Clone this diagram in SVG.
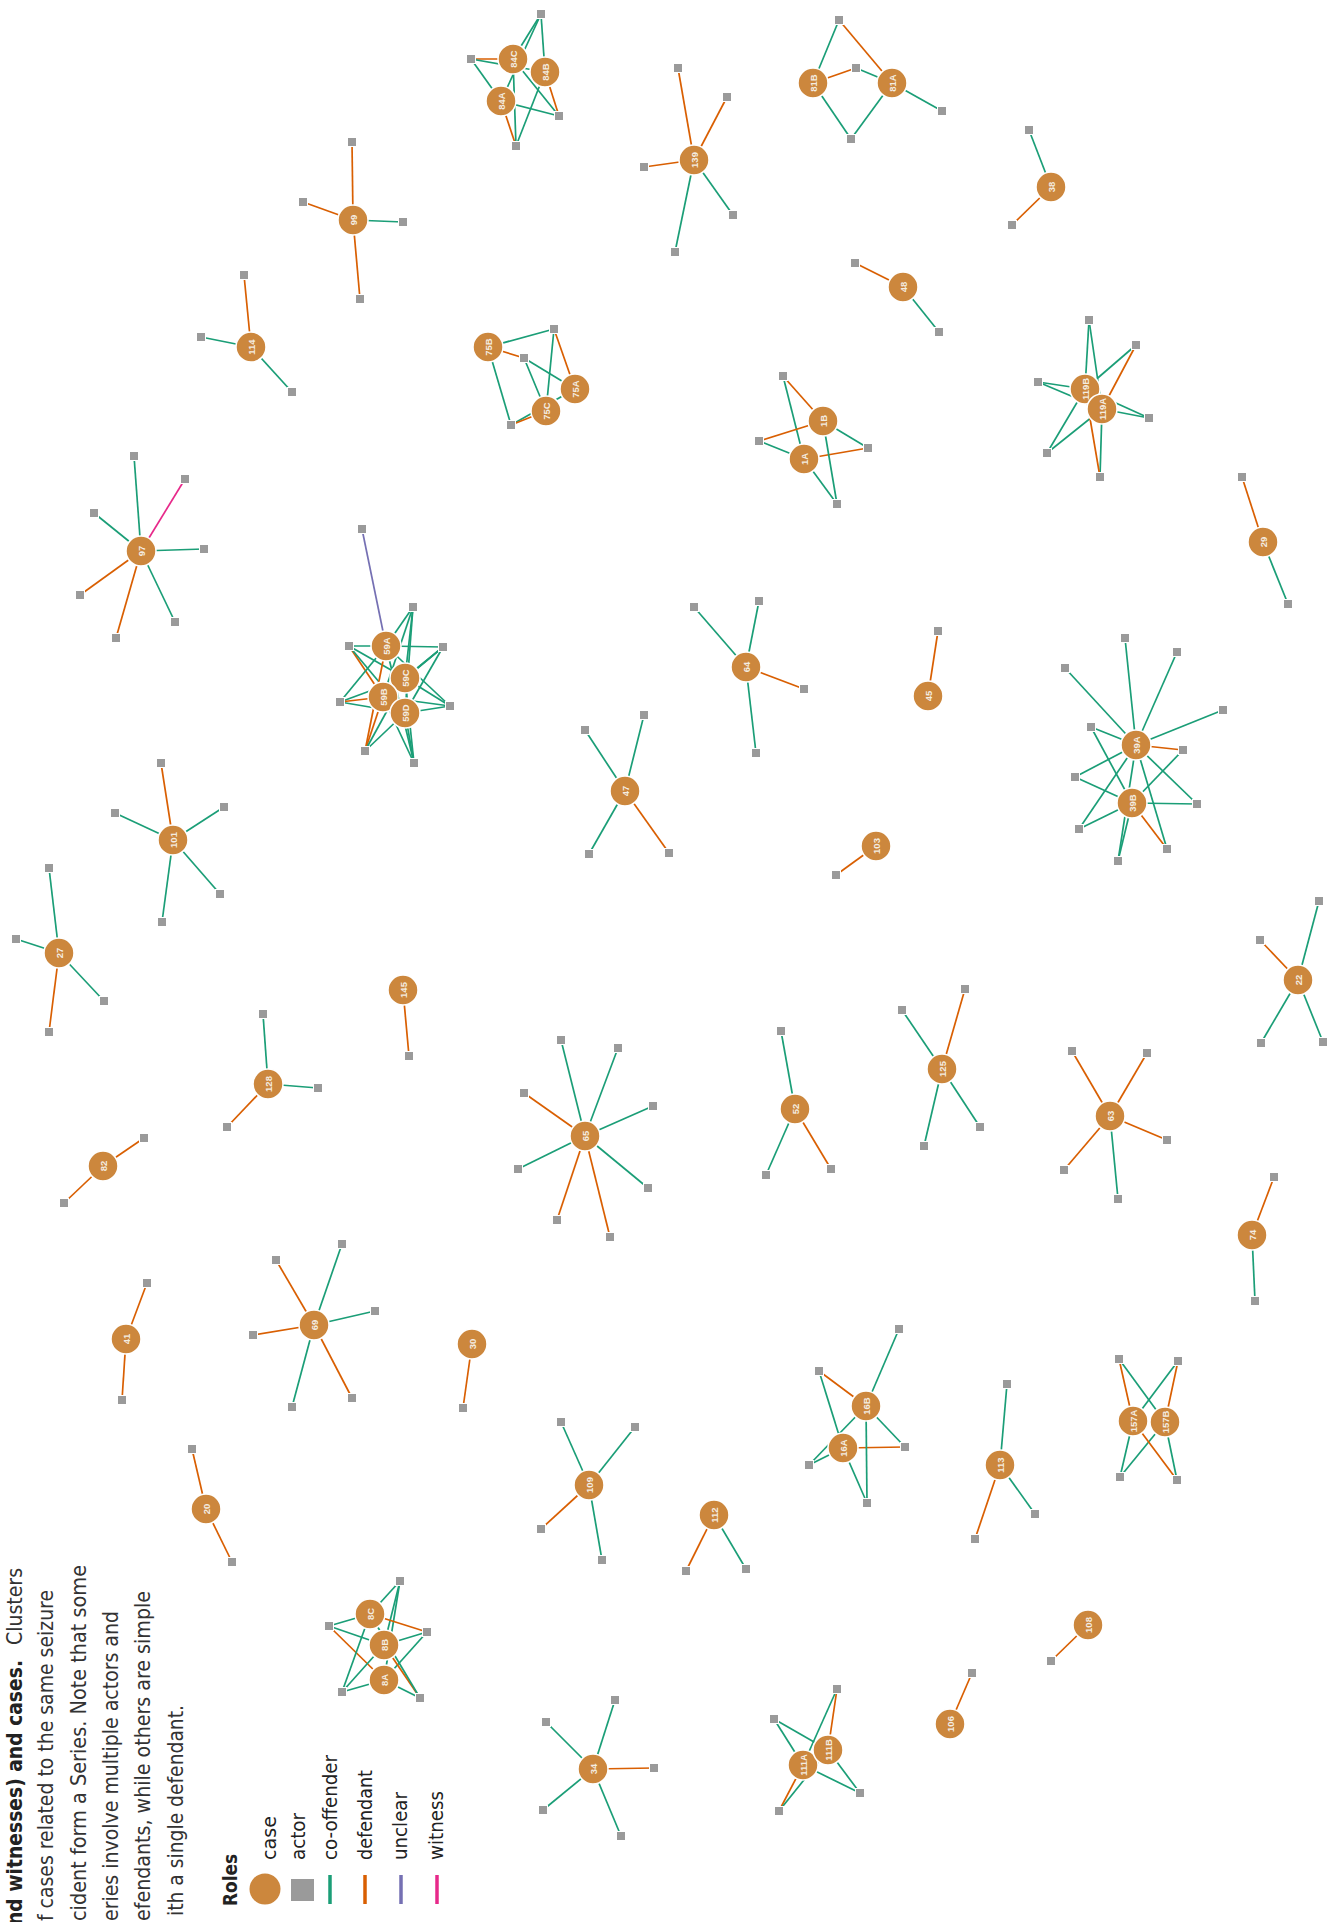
<svg xmlns="http://www.w3.org/2000/svg" width="1335" height="1922" viewBox="0 0 1335 1922">
<style>
.bg{fill:#fff}
.cs circle{fill:#cc873d;stroke:#fff;stroke-width:1.5}
.cs text{fill:#f4ede2;font-family:"Liberation Sans",Arial,sans-serif;font-size:9.5px;font-weight:bold;text-anchor:middle;dominant-baseline:central}
.ac rect{fill:#9a9a9a;stroke:#fff;stroke-width:1}
#edges line{stroke-width:1.7;fill:none}
.co{stroke:#1b9e77}
.df{stroke:#d95f02}
.un{stroke:#7570b3}
.wi{stroke:#e7298a}
.cap{font-family:"Liberation Sans Narrow","DejaVu Sans Condensed","Liberation Sans",sans-serif;font-size:21px;fill:#333}
.capb{font-weight:bold;fill:#222}
.lg{font-family:"Liberation Sans Narrow","DejaVu Sans Condensed","Liberation Sans",sans-serif;font-size:20px;fill:#222}
</style>
<rect class="bg" x="0" y="0" width="1335" height="1922"/>
<g id="edges">
<line class="df" x1="353" y1="220" x2="352" y2="142"/><line class="df" x1="353" y1="220" x2="303" y2="202"/><line class="co" x1="353" y1="220" x2="403" y2="222"/><line class="df" x1="353" y1="220" x2="360" y2="299"/>
<line class="df" x1="251" y1="347" x2="244" y2="275"/><line class="co" x1="251" y1="347" x2="201" y2="337"/><line class="co" x1="251" y1="347" x2="292" y2="392"/>
<line class="df" x1="513" y1="59" x2="471" y2="59"/><line class="co" x1="545" y1="72" x2="471" y2="59"/><line class="co" x1="501" y1="101" x2="471" y2="59"/>
<line class="co" x1="513" y1="59" x2="541" y2="14"/><line class="co" x1="501" y1="101" x2="541" y2="14"/><line class="co" x1="545" y1="72" x2="541" y2="14"/>
<line class="df" x1="545" y1="72" x2="559" y2="116"/><line class="co" x1="513" y1="59" x2="559" y2="116"/><line class="co" x1="501" y1="101" x2="559" y2="116"/>
<line class="df" x1="501" y1="101" x2="516" y2="146"/><line class="co" x1="513" y1="59" x2="516" y2="146"/><line class="co" x1="545" y1="72" x2="516" y2="146"/>
<line class="df" x1="694" y1="160" x2="678" y2="68"/><line class="df" x1="694" y1="160" x2="727" y2="97"/><line class="df" x1="694" y1="160" x2="644" y2="167"/><line class="co" x1="694" y1="160" x2="733" y2="215"/><line class="co" x1="694" y1="160" x2="675" y2="252"/>
<line class="co" x1="813" y1="83" x2="839" y2="20"/><line class="df" x1="839" y1="20" x2="892" y2="83"/><line class="df" x1="813" y1="83" x2="856" y2="68"/><line class="co" x1="856" y1="68" x2="892" y2="83"/><line class="co" x1="813" y1="83" x2="851" y2="139"/><line class="co" x1="892" y1="83" x2="851" y2="139"/><line class="co" x1="892" y1="83" x2="942" y2="111"/>
<line class="df" x1="903" y1="287" x2="855" y2="263"/><line class="co" x1="903" y1="287" x2="939" y2="332"/>
<line class="co" x1="1051" y1="187" x2="1029" y2="130"/><line class="df" x1="1051" y1="187" x2="1012" y2="225"/>
<line class="co" x1="488" y1="347" x2="554" y2="329"/><line class="df" x1="488" y1="347" x2="524" y2="358"/><line class="co" x1="488" y1="347" x2="511" y2="425"/>
<line class="df" x1="554" y1="329" x2="575" y2="389"/><line class="co" x1="554" y1="329" x2="546" y2="411"/><line class="co" x1="524" y1="358" x2="575" y2="389"/><line class="co" x1="524" y1="358" x2="546" y2="411"/><line class="co" x1="511" y1="425" x2="575" y2="389"/><line class="df" x1="511" y1="425" x2="546" y2="411"/>
<line class="df" x1="783" y1="376" x2="823" y2="421"/><line class="co" x1="783" y1="376" x2="804" y2="459"/><line class="df" x1="759" y1="441" x2="823" y2="421"/><line class="co" x1="759" y1="441" x2="804" y2="459"/><line class="co" x1="868" y1="448" x2="823" y2="421"/><line class="df" x1="868" y1="448" x2="804" y2="459"/><line class="co" x1="837" y1="504" x2="823" y2="421"/><line class="co" x1="837" y1="504" x2="804" y2="459"/>
<line class="co" x1="1089" y1="320" x2="1085" y2="389"/><line class="co" x1="1089" y1="320" x2="1102" y2="409"/><line class="co" x1="1136" y1="345" x2="1085" y2="389"/><line class="df" x1="1136" y1="345" x2="1102" y2="409"/>
<line class="co" x1="1038" y1="382" x2="1085" y2="389"/><line class="co" x1="1038" y1="382" x2="1102" y2="409"/><line class="co" x1="1149" y1="418" x2="1102" y2="409"/><line class="co" x1="1149" y1="418" x2="1085" y2="389"/>
<line class="co" x1="1047" y1="453" x2="1085" y2="389"/><line class="co" x1="1047" y1="453" x2="1102" y2="409"/><line class="co" x1="1100" y1="477" x2="1102" y2="409"/><line class="df" x1="1100" y1="477" x2="1085" y2="389"/>
<line class="co" x1="141" y1="551" x2="134" y2="456"/><line class="wi" x1="141" y1="551" x2="185" y2="479"/><line class="co" x1="141" y1="551" x2="94" y2="513"/><line class="co" x1="141" y1="551" x2="204" y2="549"/><line class="df" x1="141" y1="551" x2="80" y2="595"/><line class="df" x1="141" y1="551" x2="116" y2="638"/><line class="co" x1="141" y1="551" x2="175" y2="622"/>
<line class="df" x1="1263" y1="542" x2="1242" y2="477"/><line class="co" x1="1263" y1="542" x2="1288" y2="604"/>
<line class="un" x1="362" y1="529" x2="386" y2="646"/>
<line class="co" x1="413" y1="607" x2="386" y2="646"/><line class="co" x1="413" y1="607" x2="383" y2="697"/><line class="co" x1="413" y1="607" x2="405" y2="678"/><line class="co" x1="413" y1="607" x2="405" y2="713"/>
<line class="co" x1="349" y1="646" x2="386" y2="646"/><line class="co" x1="349" y1="646" x2="405" y2="678"/><line class="df" x1="349" y1="646" x2="383" y2="697"/><line class="co" x1="349" y1="646" x2="405" y2="713"/>
<line class="co" x1="443" y1="647" x2="386" y2="646"/><line class="co" x1="443" y1="647" x2="383" y2="697"/><line class="co" x1="443" y1="647" x2="405" y2="678"/><line class="co" x1="443" y1="647" x2="405" y2="713"/>
<line class="co" x1="340" y1="702" x2="386" y2="646"/><line class="co" x1="340" y1="702" x2="405" y2="678"/><line class="df" x1="340" y1="702" x2="383" y2="697"/><line class="co" x1="340" y1="702" x2="405" y2="713"/>
<line class="co" x1="450" y1="706" x2="386" y2="646"/><line class="co" x1="450" y1="706" x2="383" y2="697"/><line class="co" x1="450" y1="706" x2="405" y2="678"/><line class="co" x1="450" y1="706" x2="405" y2="713"/>
<line class="df" x1="365" y1="751" x2="383" y2="697"/><line class="df" x1="365" y1="751" x2="386" y2="646"/><line class="co" x1="365" y1="751" x2="405" y2="678"/><line class="co" x1="365" y1="751" x2="405" y2="713"/>
<line class="co" x1="414" y1="763" x2="386" y2="646"/><line class="co" x1="414" y1="763" x2="383" y2="697"/><line class="co" x1="414" y1="763" x2="405" y2="678"/><line class="co" x1="414" y1="763" x2="405" y2="713"/>
<line class="co" x1="746" y1="667" x2="694" y2="607"/><line class="co" x1="746" y1="667" x2="759" y2="601"/><line class="df" x1="746" y1="667" x2="804" y2="689"/><line class="co" x1="746" y1="667" x2="756" y2="753"/>
<line class="df" x1="928" y1="696" x2="938" y2="631"/>
<line class="co" x1="625" y1="791" x2="585" y2="730"/><line class="co" x1="625" y1="791" x2="644" y2="715"/><line class="co" x1="625" y1="791" x2="589" y2="854"/><line class="df" x1="625" y1="791" x2="669" y2="853"/>
<line class="co" x1="1136" y1="745" x2="1125" y2="638"/><line class="co" x1="1136" y1="745" x2="1177" y2="652"/><line class="co" x1="1136" y1="745" x2="1065" y2="668"/><line class="co" x1="1136" y1="745" x2="1223" y2="710"/>
<line class="co" x1="1136" y1="745" x2="1091" y2="727"/><line class="co" x1="1132" y1="803" x2="1091" y2="727"/>
<line class="df" x1="1136" y1="745" x2="1183" y2="750"/><line class="co" x1="1132" y1="803" x2="1183" y2="750"/>
<line class="co" x1="1136" y1="745" x2="1075" y2="777"/><line class="co" x1="1132" y1="803" x2="1075" y2="777"/>
<line class="co" x1="1136" y1="745" x2="1197" y2="804"/><line class="co" x1="1132" y1="803" x2="1197" y2="804"/>
<line class="co" x1="1136" y1="745" x2="1079" y2="829"/><line class="co" x1="1132" y1="803" x2="1079" y2="829"/>
<line class="co" x1="1136" y1="745" x2="1167" y2="849"/><line class="df" x1="1132" y1="803" x2="1167" y2="849"/>
<line class="co" x1="1136" y1="745" x2="1118" y2="861"/><line class="co" x1="1132" y1="803" x2="1118" y2="861"/>
<line class="df" x1="173" y1="840" x2="161" y2="763"/><line class="co" x1="173" y1="840" x2="115" y2="813"/><line class="co" x1="173" y1="840" x2="224" y2="807"/><line class="co" x1="173" y1="840" x2="220" y2="894"/><line class="co" x1="173" y1="840" x2="162" y2="922"/>
<line class="df" x1="876" y1="846" x2="836" y2="875"/>
<line class="co" x1="59" y1="953" x2="49" y2="868"/><line class="co" x1="59" y1="953" x2="16" y2="939"/><line class="co" x1="59" y1="953" x2="104" y2="1001"/><line class="df" x1="59" y1="953" x2="49" y2="1032"/>
<line class="df" x1="1298" y1="980" x2="1260" y2="940"/><line class="co" x1="1298" y1="980" x2="1319" y2="901"/><line class="co" x1="1298" y1="980" x2="1261" y2="1043"/><line class="co" x1="1298" y1="980" x2="1323" y2="1042"/>
<line class="df" x1="403" y1="990" x2="409" y2="1056"/>
<line class="df" x1="942" y1="1069" x2="965" y2="989"/><line class="co" x1="942" y1="1069" x2="902" y2="1010"/><line class="co" x1="942" y1="1069" x2="980" y2="1127"/><line class="co" x1="942" y1="1069" x2="924" y2="1146"/>
<line class="co" x1="795" y1="1109" x2="781" y2="1031"/><line class="co" x1="795" y1="1109" x2="766" y2="1175"/><line class="df" x1="795" y1="1109" x2="831" y2="1169"/>
<line class="co" x1="268" y1="1084" x2="263" y2="1014"/><line class="co" x1="268" y1="1084" x2="318" y2="1088"/><line class="df" x1="268" y1="1084" x2="227" y2="1127"/>
<line class="df" x1="1110" y1="1116" x2="1072" y2="1051"/><line class="df" x1="1110" y1="1116" x2="1147" y2="1053"/><line class="df" x1="1110" y1="1116" x2="1167" y2="1140"/><line class="df" x1="1110" y1="1116" x2="1064" y2="1170"/><line class="co" x1="1110" y1="1116" x2="1118" y2="1199"/>
<line class="df" x1="103" y1="1166" x2="144" y2="1138"/><line class="df" x1="103" y1="1166" x2="64" y2="1203"/>
<line class="co" x1="585" y1="1136" x2="561" y2="1040"/><line class="co" x1="585" y1="1136" x2="618" y2="1048"/><line class="df" x1="585" y1="1136" x2="524" y2="1093"/><line class="co" x1="585" y1="1136" x2="653" y2="1106"/><line class="co" x1="585" y1="1136" x2="518" y2="1169"/><line class="co" x1="585" y1="1136" x2="648" y2="1188"/><line class="df" x1="585" y1="1136" x2="557" y2="1220"/><line class="df" x1="585" y1="1136" x2="610" y2="1237"/>
<line class="df" x1="1252" y1="1235" x2="1274" y2="1177"/><line class="co" x1="1252" y1="1235" x2="1255" y2="1301"/>
<line class="df" x1="126" y1="1339" x2="147" y2="1283"/><line class="df" x1="126" y1="1339" x2="122" y2="1400"/>
<line class="df" x1="314" y1="1325" x2="276" y2="1260"/><line class="co" x1="314" y1="1325" x2="342" y2="1244"/><line class="co" x1="314" y1="1325" x2="375" y2="1311"/><line class="df" x1="314" y1="1325" x2="253" y2="1335"/><line class="co" x1="314" y1="1325" x2="292" y2="1407"/><line class="df" x1="314" y1="1325" x2="352" y2="1398"/>
<line class="df" x1="472" y1="1344" x2="463" y2="1408"/>
<line class="df" x1="819" y1="1371" x2="866" y2="1406"/><line class="co" x1="819" y1="1371" x2="843" y2="1448"/><line class="co" x1="899" y1="1329" x2="866" y2="1406"/><line class="co" x1="905" y1="1447" x2="866" y2="1406"/><line class="df" x1="905" y1="1447" x2="843" y2="1448"/><line class="co" x1="809" y1="1465" x2="843" y2="1448"/><line class="co" x1="809" y1="1465" x2="866" y2="1406"/><line class="co" x1="867" y1="1503" x2="843" y2="1448"/><line class="co" x1="867" y1="1503" x2="866" y2="1406"/>
<line class="df" x1="1119" y1="1359" x2="1133" y2="1421"/><line class="co" x1="1119" y1="1359" x2="1165" y2="1422"/><line class="co" x1="1178" y1="1361" x2="1133" y2="1421"/><line class="df" x1="1178" y1="1361" x2="1165" y2="1422"/><line class="co" x1="1120" y1="1477" x2="1133" y2="1421"/><line class="co" x1="1120" y1="1477" x2="1165" y2="1422"/><line class="df" x1="1177" y1="1480" x2="1133" y2="1421"/><line class="co" x1="1177" y1="1480" x2="1165" y2="1422"/>
<line class="co" x1="1000" y1="1465" x2="1007" y2="1384"/><line class="co" x1="1000" y1="1465" x2="1035" y2="1514"/><line class="df" x1="1000" y1="1465" x2="975" y2="1539"/>
<line class="df" x1="206" y1="1509" x2="192" y2="1449"/><line class="df" x1="206" y1="1509" x2="232" y2="1562"/>
<line class="co" x1="589" y1="1485" x2="561" y2="1422"/><line class="co" x1="589" y1="1485" x2="635" y2="1427"/><line class="df" x1="589" y1="1485" x2="541" y2="1529"/><line class="co" x1="589" y1="1485" x2="602" y2="1560"/>
<line class="df" x1="714" y1="1515" x2="686" y2="1571"/><line class="co" x1="714" y1="1515" x2="746" y2="1569"/>
<line class="co" x1="400" y1="1581" x2="370" y2="1614"/><line class="co" x1="400" y1="1581" x2="384" y2="1645"/><line class="co" x1="400" y1="1581" x2="384" y2="1680"/>
<line class="co" x1="329" y1="1626" x2="370" y2="1614"/><line class="co" x1="329" y1="1626" x2="384" y2="1645"/><line class="df" x1="329" y1="1626" x2="384" y2="1680"/>
<line class="df" x1="427" y1="1632" x2="370" y2="1614"/><line class="co" x1="427" y1="1632" x2="384" y2="1645"/><line class="co" x1="427" y1="1632" x2="384" y2="1680"/>
<line class="co" x1="342" y1="1692" x2="370" y2="1614"/><line class="co" x1="342" y1="1692" x2="384" y2="1645"/><line class="co" x1="342" y1="1692" x2="384" y2="1680"/>
<line class="co" x1="420" y1="1698" x2="384" y2="1680"/><line class="df" x1="420" y1="1698" x2="384" y2="1645"/><line class="co" x1="420" y1="1698" x2="370" y2="1614"/>
<line class="df" x1="1088" y1="1625" x2="1051" y2="1661"/>
<line class="co" x1="593" y1="1769" x2="546" y2="1722"/><line class="co" x1="593" y1="1769" x2="615" y2="1700"/><line class="df" x1="593" y1="1769" x2="654" y2="1768"/><line class="co" x1="593" y1="1769" x2="543" y2="1810"/><line class="co" x1="593" y1="1769" x2="621" y2="1836"/>
<line class="df" x1="950" y1="1724" x2="972" y2="1673"/>
<line class="df" x1="837" y1="1689" x2="828" y2="1750"/><line class="co" x1="837" y1="1689" x2="803" y2="1765"/><line class="co" x1="774" y1="1719" x2="828" y2="1750"/><line class="co" x1="774" y1="1719" x2="803" y2="1765"/><line class="co" x1="860" y1="1793" x2="828" y2="1750"/><line class="co" x1="860" y1="1793" x2="803" y2="1765"/><line class="df" x1="779" y1="1811" x2="803" y2="1765"/><line class="co" x1="779" y1="1811" x2="828" y2="1750"/>
</g>
<g id="actor-nodes" class="ac">
<g id="a99-0"><rect x="347.5" y="137.5" width="9" height="9"/></g>
<g id="a99-1"><rect x="298.5" y="197.5" width="9" height="9"/></g>
<g id="a99-2"><rect x="398.5" y="217.5" width="9" height="9"/></g>
<g id="a99-3"><rect x="355.5" y="294.5" width="9" height="9"/></g>
<g id="a114-1"><rect x="239.5" y="270.5" width="9" height="9"/></g>
<g id="a114-2"><rect x="196.5" y="332.5" width="9" height="9"/></g>
<g id="a114-3"><rect x="287.5" y="387.5" width="9" height="9"/></g>
<g id="a84-1"><rect x="536.5" y="9.5" width="9" height="9"/></g>
<g id="a84-2"><rect x="466.5" y="54.5" width="9" height="9"/></g>
<g id="a84-3"><rect x="554.5" y="111.5" width="9" height="9"/></g>
<g id="a84-4"><rect x="511.5" y="141.5" width="9" height="9"/></g>
<g id="a139-1"><rect x="673.5" y="63.5" width="9" height="9"/></g>
<g id="a139-2"><rect x="722.5" y="92.5" width="9" height="9"/></g>
<g id="a139-3"><rect x="639.5" y="162.5" width="9" height="9"/></g>
<g id="a139-4"><rect x="728.5" y="210.5" width="9" height="9"/></g>
<g id="a139-5"><rect x="670.5" y="247.5" width="9" height="9"/></g>
<g id="a81-1"><rect x="834.5" y="15.5" width="9" height="9"/></g>
<g id="a81-2"><rect x="851.5" y="63.5" width="9" height="9"/></g>
<g id="a81-3"><rect x="846.5" y="134.5" width="9" height="9"/></g>
<g id="a81-4"><rect x="937.5" y="106.5" width="9" height="9"/></g>
<g id="a48-1"><rect x="850.5" y="258.5" width="9" height="9"/></g>
<g id="a48-2"><rect x="934.5" y="327.5" width="9" height="9"/></g>
<g id="a38-1"><rect x="1024.5" y="125.5" width="9" height="9"/></g>
<g id="a38-2"><rect x="1007.5" y="220.5" width="9" height="9"/></g>
<g id="a75-1"><rect x="549.5" y="324.5" width="9" height="9"/></g>
<g id="a75-2"><rect x="519.5" y="353.5" width="9" height="9"/></g>
<g id="a75-3"><rect x="506.5" y="420.5" width="9" height="9"/></g>
<g id="a1-1"><rect x="778.5" y="371.5" width="9" height="9"/></g>
<g id="a1-2"><rect x="754.5" y="436.5" width="9" height="9"/></g>
<g id="a1-3"><rect x="863.5" y="443.5" width="9" height="9"/></g>
<g id="a1-4"><rect x="832.5" y="499.5" width="9" height="9"/></g>
<g id="a119-1"><rect x="1084.5" y="315.5" width="9" height="9"/></g>
<g id="a119-2"><rect x="1131.5" y="340.5" width="9" height="9"/></g>
<g id="a119-3"><rect x="1033.5" y="377.5" width="9" height="9"/></g>
<g id="a119-4"><rect x="1144.5" y="413.5" width="9" height="9"/></g>
<g id="a119-5"><rect x="1042.5" y="448.5" width="9" height="9"/></g>
<g id="a119-6"><rect x="1095.5" y="472.5" width="9" height="9"/></g>
<g id="a97-1"><rect x="129.5" y="451.5" width="9" height="9"/></g>
<g id="a97-2"><rect x="180.5" y="474.5" width="9" height="9"/></g>
<g id="a97-3"><rect x="89.5" y="508.5" width="9" height="9"/></g>
<g id="a97-4"><rect x="199.5" y="544.5" width="9" height="9"/></g>
<g id="a97-5"><rect x="75.5" y="590.5" width="9" height="9"/></g>
<g id="a97-6"><rect x="111.5" y="633.5" width="9" height="9"/></g>
<g id="a97-7"><rect x="170.5" y="617.5" width="9" height="9"/></g>
<g id="a29-1"><rect x="1237.5" y="472.5" width="9" height="9"/></g>
<g id="a29-2"><rect x="1283.5" y="599.5" width="9" height="9"/></g>
<g id="a59-0"><rect x="357.5" y="524.5" width="9" height="9"/></g>
<g id="a59-1"><rect x="408.5" y="602.5" width="9" height="9"/></g>
<g id="a59-2"><rect x="344.5" y="641.5" width="9" height="9"/></g>
<g id="a59-3"><rect x="438.5" y="642.5" width="9" height="9"/></g>
<g id="a59-4"><rect x="335.5" y="697.5" width="9" height="9"/></g>
<g id="a59-5"><rect x="445.5" y="701.5" width="9" height="9"/></g>
<g id="a59-6"><rect x="360.5" y="746.5" width="9" height="9"/></g>
<g id="a59-7"><rect x="409.5" y="758.5" width="9" height="9"/></g>
<g id="a64-1"><rect x="689.5" y="602.5" width="9" height="9"/></g>
<g id="a64-2"><rect x="754.5" y="596.5" width="9" height="9"/></g>
<g id="a64-3"><rect x="799.5" y="684.5" width="9" height="9"/></g>
<g id="a64-4"><rect x="751.5" y="748.5" width="9" height="9"/></g>
<g id="a45-1"><rect x="933.5" y="626.5" width="9" height="9"/></g>
<g id="a47-1"><rect x="580.5" y="725.5" width="9" height="9"/></g>
<g id="a47-2"><rect x="639.5" y="710.5" width="9" height="9"/></g>
<g id="a47-3"><rect x="584.5" y="849.5" width="9" height="9"/></g>
<g id="a47-4"><rect x="664.5" y="848.5" width="9" height="9"/></g>
<g id="a39-1"><rect x="1120.5" y="633.5" width="9" height="9"/></g>
<g id="a39-2"><rect x="1172.5" y="647.5" width="9" height="9"/></g>
<g id="a39-3"><rect x="1060.5" y="663.5" width="9" height="9"/></g>
<g id="a39-4"><rect x="1218.5" y="705.5" width="9" height="9"/></g>
<g id="a39-5"><rect x="1086.5" y="722.5" width="9" height="9"/></g>
<g id="a39-6"><rect x="1178.5" y="745.5" width="9" height="9"/></g>
<g id="a39-7"><rect x="1070.5" y="772.5" width="9" height="9"/></g>
<g id="a39-8"><rect x="1192.5" y="799.5" width="9" height="9"/></g>
<g id="a39-9"><rect x="1074.5" y="824.5" width="9" height="9"/></g>
<g id="a39-10"><rect x="1162.5" y="844.5" width="9" height="9"/></g>
<g id="a39-11"><rect x="1113.5" y="856.5" width="9" height="9"/></g>
<g id="a101-1"><rect x="156.5" y="758.5" width="9" height="9"/></g>
<g id="a101-2"><rect x="110.5" y="808.5" width="9" height="9"/></g>
<g id="a101-3"><rect x="219.5" y="802.5" width="9" height="9"/></g>
<g id="a101-4"><rect x="215.5" y="889.5" width="9" height="9"/></g>
<g id="a101-5"><rect x="157.5" y="917.5" width="9" height="9"/></g>
<g id="a103-1"><rect x="831.5" y="870.5" width="9" height="9"/></g>
<g id="a27-1"><rect x="44.5" y="863.5" width="9" height="9"/></g>
<g id="a27-2"><rect x="11.5" y="934.5" width="9" height="9"/></g>
<g id="a27-3"><rect x="99.5" y="996.5" width="9" height="9"/></g>
<g id="a27-4"><rect x="44.5" y="1027.5" width="9" height="9"/></g>
<g id="a22-1"><rect x="1255.5" y="935.5" width="9" height="9"/></g>
<g id="a22-2"><rect x="1314.5" y="896.5" width="9" height="9"/></g>
<g id="a22-3"><rect x="1256.5" y="1038.5" width="9" height="9"/></g>
<g id="a22-4"><rect x="1318.5" y="1037.5" width="9" height="9"/></g>
<g id="a145-1"><rect x="404.5" y="1051.5" width="9" height="9"/></g>
<g id="a125-1"><rect x="960.5" y="984.5" width="9" height="9"/></g>
<g id="a125-2"><rect x="897.5" y="1005.5" width="9" height="9"/></g>
<g id="a125-3"><rect x="975.5" y="1122.5" width="9" height="9"/></g>
<g id="a125-4"><rect x="919.5" y="1141.5" width="9" height="9"/></g>
<g id="a52-1"><rect x="776.5" y="1026.5" width="9" height="9"/></g>
<g id="a52-2"><rect x="761.5" y="1170.5" width="9" height="9"/></g>
<g id="a52-3"><rect x="826.5" y="1164.5" width="9" height="9"/></g>
<g id="a128-1"><rect x="258.5" y="1009.5" width="9" height="9"/></g>
<g id="a128-2"><rect x="313.5" y="1083.5" width="9" height="9"/></g>
<g id="a128-3"><rect x="222.5" y="1122.5" width="9" height="9"/></g>
<g id="a63-1"><rect x="1067.5" y="1046.5" width="9" height="9"/></g>
<g id="a63-2"><rect x="1142.5" y="1048.5" width="9" height="9"/></g>
<g id="a63-3"><rect x="1162.5" y="1135.5" width="9" height="9"/></g>
<g id="a63-4"><rect x="1059.5" y="1165.5" width="9" height="9"/></g>
<g id="a63-5"><rect x="1113.5" y="1194.5" width="9" height="9"/></g>
<g id="a82-1"><rect x="139.5" y="1133.5" width="9" height="9"/></g>
<g id="a82-2"><rect x="59.5" y="1198.5" width="9" height="9"/></g>
<g id="a65-1"><rect x="556.5" y="1035.5" width="9" height="9"/></g>
<g id="a65-2"><rect x="613.5" y="1043.5" width="9" height="9"/></g>
<g id="a65-3"><rect x="519.5" y="1088.5" width="9" height="9"/></g>
<g id="a65-4"><rect x="648.5" y="1101.5" width="9" height="9"/></g>
<g id="a65-5"><rect x="513.5" y="1164.5" width="9" height="9"/></g>
<g id="a65-6"><rect x="643.5" y="1183.5" width="9" height="9"/></g>
<g id="a65-7"><rect x="552.5" y="1215.5" width="9" height="9"/></g>
<g id="a65-8"><rect x="605.5" y="1232.5" width="9" height="9"/></g>
<g id="a74-1"><rect x="1269.5" y="1172.5" width="9" height="9"/></g>
<g id="a74-2"><rect x="1250.5" y="1296.5" width="9" height="9"/></g>
<g id="a41-1"><rect x="142.5" y="1278.5" width="9" height="9"/></g>
<g id="a41-2"><rect x="117.5" y="1395.5" width="9" height="9"/></g>
<g id="a69-1"><rect x="271.5" y="1255.5" width="9" height="9"/></g>
<g id="a69-2"><rect x="337.5" y="1239.5" width="9" height="9"/></g>
<g id="a69-3"><rect x="370.5" y="1306.5" width="9" height="9"/></g>
<g id="a69-4"><rect x="248.5" y="1330.5" width="9" height="9"/></g>
<g id="a69-5"><rect x="287.5" y="1402.5" width="9" height="9"/></g>
<g id="a69-6"><rect x="347.5" y="1393.5" width="9" height="9"/></g>
<g id="a30-1"><rect x="458.5" y="1403.5" width="9" height="9"/></g>
<g id="a16-1"><rect x="814.5" y="1366.5" width="9" height="9"/></g>
<g id="a16-2"><rect x="894.5" y="1324.5" width="9" height="9"/></g>
<g id="a16-3"><rect x="900.5" y="1442.5" width="9" height="9"/></g>
<g id="a16-4"><rect x="804.5" y="1460.5" width="9" height="9"/></g>
<g id="a16-5"><rect x="862.5" y="1498.5" width="9" height="9"/></g>
<g id="a157-1"><rect x="1114.5" y="1354.5" width="9" height="9"/></g>
<g id="a157-2"><rect x="1173.5" y="1356.5" width="9" height="9"/></g>
<g id="a157-3"><rect x="1115.5" y="1472.5" width="9" height="9"/></g>
<g id="a157-4"><rect x="1172.5" y="1475.5" width="9" height="9"/></g>
<g id="a113-1"><rect x="1002.5" y="1379.5" width="9" height="9"/></g>
<g id="a113-2"><rect x="1030.5" y="1509.5" width="9" height="9"/></g>
<g id="a113-3"><rect x="970.5" y="1534.5" width="9" height="9"/></g>
<g id="a20-1"><rect x="187.5" y="1444.5" width="9" height="9"/></g>
<g id="a20-2"><rect x="227.5" y="1557.5" width="9" height="9"/></g>
<g id="a109-1"><rect x="556.5" y="1417.5" width="9" height="9"/></g>
<g id="a109-2"><rect x="630.5" y="1422.5" width="9" height="9"/></g>
<g id="a109-3"><rect x="536.5" y="1524.5" width="9" height="9"/></g>
<g id="a109-4"><rect x="597.5" y="1555.5" width="9" height="9"/></g>
<g id="a112-1"><rect x="681.5" y="1566.5" width="9" height="9"/></g>
<g id="a112-2"><rect x="741.5" y="1564.5" width="9" height="9"/></g>
<g id="a8-1"><rect x="395.5" y="1576.5" width="9" height="9"/></g>
<g id="a8-2"><rect x="324.5" y="1621.5" width="9" height="9"/></g>
<g id="a8-3"><rect x="422.5" y="1627.5" width="9" height="9"/></g>
<g id="a8-4"><rect x="337.5" y="1687.5" width="9" height="9"/></g>
<g id="a8-5"><rect x="415.5" y="1693.5" width="9" height="9"/></g>
<g id="a108-1"><rect x="1046.5" y="1656.5" width="9" height="9"/></g>
<g id="a34-1"><rect x="541.5" y="1717.5" width="9" height="9"/></g>
<g id="a34-2"><rect x="610.5" y="1695.5" width="9" height="9"/></g>
<g id="a34-3"><rect x="649.5" y="1763.5" width="9" height="9"/></g>
<g id="a34-4"><rect x="538.5" y="1805.5" width="9" height="9"/></g>
<g id="a34-5"><rect x="616.5" y="1831.5" width="9" height="9"/></g>
<g id="a106-1"><rect x="967.5" y="1668.5" width="9" height="9"/></g>
<g id="a111-1"><rect x="832.5" y="1684.5" width="9" height="9"/></g>
<g id="a111-2"><rect x="769.5" y="1714.5" width="9" height="9"/></g>
<g id="a111-3"><rect x="855.5" y="1788.5" width="9" height="9"/></g>
<g id="a111-4"><rect x="774.5" y="1806.5" width="9" height="9"/></g>
</g>
<g id="cases">
<g id="c99" class="cs"><circle cx="353" cy="220" r="15"/><text x="353" y="220" transform="rotate(-90 353 220)">99</text></g>
<g id="c114" class="cs"><circle cx="251" cy="347" r="15"/><text x="251" y="347" transform="rotate(-90 251 347)">114</text></g>
<g id="c84A" class="cs"><circle cx="501" cy="101" r="15"/><text x="501" y="101" transform="rotate(-90 501 101)">84A</text></g>
<g id="c84C" class="cs"><circle cx="513" cy="59" r="15"/><text x="513" y="59" transform="rotate(-90 513 59)">84C</text></g>
<g id="c84B" class="cs"><circle cx="545" cy="72" r="15"/><text x="545" y="72" transform="rotate(-90 545 72)">84B</text></g>
<g id="c139" class="cs"><circle cx="694" cy="160" r="15"/><text x="694" y="160" transform="rotate(-90 694 160)">139</text></g>
<g id="c81B" class="cs"><circle cx="813" cy="83" r="15"/><text x="813" y="83" transform="rotate(-90 813 83)">81B</text></g>
<g id="c81A" class="cs"><circle cx="892" cy="83" r="15"/><text x="892" y="83" transform="rotate(-90 892 83)">81A</text></g>
<g id="c48" class="cs"><circle cx="903" cy="287" r="15"/><text x="903" y="287" transform="rotate(-90 903 287)">48</text></g>
<g id="c38" class="cs"><circle cx="1051" cy="187" r="15"/><text x="1051" y="187" transform="rotate(-90 1051 187)">38</text></g>
<g id="c75B" class="cs"><circle cx="488" cy="347" r="15"/><text x="488" y="347" transform="rotate(-90 488 347)">75B</text></g>
<g id="c75A" class="cs"><circle cx="575" cy="389" r="15"/><text x="575" y="389" transform="rotate(-90 575 389)">75A</text></g>
<g id="c75C" class="cs"><circle cx="546" cy="411" r="15"/><text x="546" y="411" transform="rotate(-90 546 411)">75C</text></g>
<g id="c1B" class="cs"><circle cx="823" cy="421" r="15"/><text x="823" y="421" transform="rotate(-90 823 421)">1B</text></g>
<g id="c1A" class="cs"><circle cx="804" cy="459" r="15"/><text x="804" y="459" transform="rotate(-90 804 459)">1A</text></g>
<g id="c119B" class="cs"><circle cx="1085" cy="389" r="15"/><text x="1085" y="389" transform="rotate(-90 1085 389)">119B</text></g>
<g id="c119A" class="cs"><circle cx="1102" cy="409" r="15"/><text x="1102" y="409" transform="rotate(-90 1102 409)">119A</text></g>
<g id="c97" class="cs"><circle cx="141" cy="551" r="15"/><text x="141" y="551" transform="rotate(-90 141 551)">97</text></g>
<g id="c29" class="cs"><circle cx="1263" cy="542" r="15"/><text x="1263" y="542" transform="rotate(-90 1263 542)">29</text></g>
<g id="c59A" class="cs"><circle cx="386" cy="646" r="15"/><text x="386" y="646" transform="rotate(-90 386 646)">59A</text></g>
<g id="c59C" class="cs"><circle cx="405" cy="678" r="15"/><text x="405" y="678" transform="rotate(-90 405 678)">59C</text></g>
<g id="c59B" class="cs"><circle cx="383" cy="697" r="15"/><text x="383" y="697" transform="rotate(-90 383 697)">59B</text></g>
<g id="c59D" class="cs"><circle cx="405" cy="713" r="15"/><text x="405" y="713" transform="rotate(-90 405 713)">59D</text></g>
<g id="c64" class="cs"><circle cx="746" cy="667" r="15"/><text x="746" y="667" transform="rotate(-90 746 667)">64</text></g>
<g id="c45" class="cs"><circle cx="928" cy="696" r="15"/><text x="928" y="696" transform="rotate(-90 928 696)">45</text></g>
<g id="c47" class="cs"><circle cx="625" cy="791" r="15"/><text x="625" y="791" transform="rotate(-90 625 791)">47</text></g>
<g id="c39A" class="cs"><circle cx="1136" cy="745" r="15"/><text x="1136" y="745" transform="rotate(-90 1136 745)">39A</text></g>
<g id="c39B" class="cs"><circle cx="1132" cy="803" r="15"/><text x="1132" y="803" transform="rotate(-90 1132 803)">39B</text></g>
<g id="c101" class="cs"><circle cx="173" cy="840" r="15"/><text x="173" y="840" transform="rotate(-90 173 840)">101</text></g>
<g id="c103" class="cs"><circle cx="876" cy="846" r="15"/><text x="876" y="846" transform="rotate(-90 876 846)">103</text></g>
<g id="c27" class="cs"><circle cx="59" cy="953" r="15"/><text x="59" y="953" transform="rotate(-90 59 953)">27</text></g>
<g id="c22" class="cs"><circle cx="1298" cy="980" r="15"/><text x="1298" y="980" transform="rotate(-90 1298 980)">22</text></g>
<g id="c145" class="cs"><circle cx="403" cy="990" r="15"/><text x="403" y="990" transform="rotate(-90 403 990)">145</text></g>
<g id="c125" class="cs"><circle cx="942" cy="1069" r="15"/><text x="942" y="1069" transform="rotate(-90 942 1069)">125</text></g>
<g id="c52" class="cs"><circle cx="795" cy="1109" r="15"/><text x="795" y="1109" transform="rotate(-90 795 1109)">52</text></g>
<g id="c128" class="cs"><circle cx="268" cy="1084" r="15"/><text x="268" y="1084" transform="rotate(-90 268 1084)">128</text></g>
<g id="c63" class="cs"><circle cx="1110" cy="1116" r="15"/><text x="1110" y="1116" transform="rotate(-90 1110 1116)">63</text></g>
<g id="c82" class="cs"><circle cx="103" cy="1166" r="15"/><text x="103" y="1166" transform="rotate(-90 103 1166)">82</text></g>
<g id="c65" class="cs"><circle cx="585" cy="1136" r="15"/><text x="585" y="1136" transform="rotate(-90 585 1136)">65</text></g>
<g id="c74" class="cs"><circle cx="1252" cy="1235" r="15"/><text x="1252" y="1235" transform="rotate(-90 1252 1235)">74</text></g>
<g id="c41" class="cs"><circle cx="126" cy="1339" r="15"/><text x="126" y="1339" transform="rotate(-90 126 1339)">41</text></g>
<g id="c69" class="cs"><circle cx="314" cy="1325" r="15"/><text x="314" y="1325" transform="rotate(-90 314 1325)">69</text></g>
<g id="c30" class="cs"><circle cx="472" cy="1344" r="15"/><text x="472" y="1344" transform="rotate(-90 472 1344)">30</text></g>
<g id="c16B" class="cs"><circle cx="866" cy="1406" r="15"/><text x="866" y="1406" transform="rotate(-90 866 1406)">16B</text></g>
<g id="c16A" class="cs"><circle cx="843" cy="1448" r="15"/><text x="843" y="1448" transform="rotate(-90 843 1448)">16A</text></g>
<g id="c157A" class="cs"><circle cx="1133" cy="1421" r="15"/><text x="1133" y="1421" transform="rotate(-90 1133 1421)">157A</text></g>
<g id="c157B" class="cs"><circle cx="1165" cy="1422" r="15"/><text x="1165" y="1422" transform="rotate(-90 1165 1422)">157B</text></g>
<g id="c113" class="cs"><circle cx="1000" cy="1465" r="15"/><text x="1000" y="1465" transform="rotate(-90 1000 1465)">113</text></g>
<g id="c20" class="cs"><circle cx="206" cy="1509" r="15"/><text x="206" y="1509" transform="rotate(-90 206 1509)">20</text></g>
<g id="c109" class="cs"><circle cx="589" cy="1485" r="15"/><text x="589" y="1485" transform="rotate(-90 589 1485)">109</text></g>
<g id="c112" class="cs"><circle cx="714" cy="1515" r="15"/><text x="714" y="1515" transform="rotate(-90 714 1515)">112</text></g>
<g id="c8C" class="cs"><circle cx="370" cy="1614" r="15"/><text x="370" y="1614" transform="rotate(-90 370 1614)">8C</text></g>
<g id="c8B" class="cs"><circle cx="384" cy="1645" r="15"/><text x="384" y="1645" transform="rotate(-90 384 1645)">8B</text></g>
<g id="c8A" class="cs"><circle cx="384" cy="1680" r="15"/><text x="384" y="1680" transform="rotate(-90 384 1680)">8A</text></g>
<g id="c108" class="cs"><circle cx="1088" cy="1625" r="15"/><text x="1088" y="1625" transform="rotate(-90 1088 1625)">108</text></g>
<g id="c34" class="cs"><circle cx="593" cy="1769" r="15"/><text x="593" y="1769" transform="rotate(-90 593 1769)">34</text></g>
<g id="c106" class="cs"><circle cx="950" cy="1724" r="15"/><text x="950" y="1724" transform="rotate(-90 950 1724)">106</text></g>
<g id="c111A" class="cs"><circle cx="803" cy="1765" r="15"/><text x="803" y="1765" transform="rotate(-90 803 1765)">111A</text></g>
<g id="c111B" class="cs"><circle cx="828" cy="1750" r="15"/><text x="828" y="1750" transform="rotate(-90 828 1750)">111B</text></g>
</g>
<g id="caption">
<text class="cap capb" transform="translate(21.5,1925) rotate(-90)" textLength="265" lengthAdjust="spacingAndGlyphs">nd witnesses) and cases.</text>
<text class="cap" transform="translate(21.5,1645) rotate(-90)" textLength="77" lengthAdjust="spacingAndGlyphs">Clusters</text>
<text class="cap" transform="translate(53,1921) rotate(-90)" textLength="331" lengthAdjust="spacingAndGlyphs">f cases related to the same seizure</text>
<text class="cap" transform="translate(86,1921) rotate(-90)" textLength="356" lengthAdjust="spacingAndGlyphs">cident form a Series. Note that some</text>
<text class="cap" transform="translate(118,1921) rotate(-90)" textLength="310" lengthAdjust="spacingAndGlyphs">eries involve multiple actors and</text>
<text class="cap" transform="translate(150,1921) rotate(-90)" textLength="330" lengthAdjust="spacingAndGlyphs">efendants, while others are simple</text>
<text class="cap" transform="translate(183,1916) rotate(-90)" textLength="211" lengthAdjust="spacingAndGlyphs">ith a single defendant.</text>
</g>
<g id="legend">
<text class="lg" font-weight="bold" transform="translate(237,1906) rotate(-90)" textLength="52" lengthAdjust="spacingAndGlyphs">Roles</text>
<circle cx="265" cy="1889" r="15.5" fill="#cc873d"/>
<rect x="291" y="1879" width="23" height="22" fill="#9a9a9a"/>
<line x1="330" y1="1875" x2="330" y2="1904" stroke="#1b9e77" stroke-width="3.5"/>
<line x1="365" y1="1875" x2="365" y2="1904" stroke="#d95f02" stroke-width="3.5"/>
<line x1="401" y1="1875" x2="401" y2="1904" stroke="#7570b3" stroke-width="3.5"/>
<line x1="437" y1="1875" x2="437" y2="1904" stroke="#e7298a" stroke-width="3.5"/>
<text class="lg" transform="translate(276,1860) rotate(-90)" textLength="44" lengthAdjust="spacingAndGlyphs">case</text>
<text class="lg" transform="translate(305,1860) rotate(-90)" textLength="47" lengthAdjust="spacingAndGlyphs">actor</text>
<text class="lg" transform="translate(337,1860) rotate(-90)" textLength="105" lengthAdjust="spacingAndGlyphs">co-offender</text>
<text class="lg" transform="translate(372,1860) rotate(-90)" textLength="90" lengthAdjust="spacingAndGlyphs">defendant</text>
<text class="lg" transform="translate(407,1860) rotate(-90)" textLength="68" lengthAdjust="spacingAndGlyphs">unclear</text>
<text class="lg" transform="translate(443,1860) rotate(-90)" textLength="69" lengthAdjust="spacingAndGlyphs">witness</text>
</g>
</svg>
